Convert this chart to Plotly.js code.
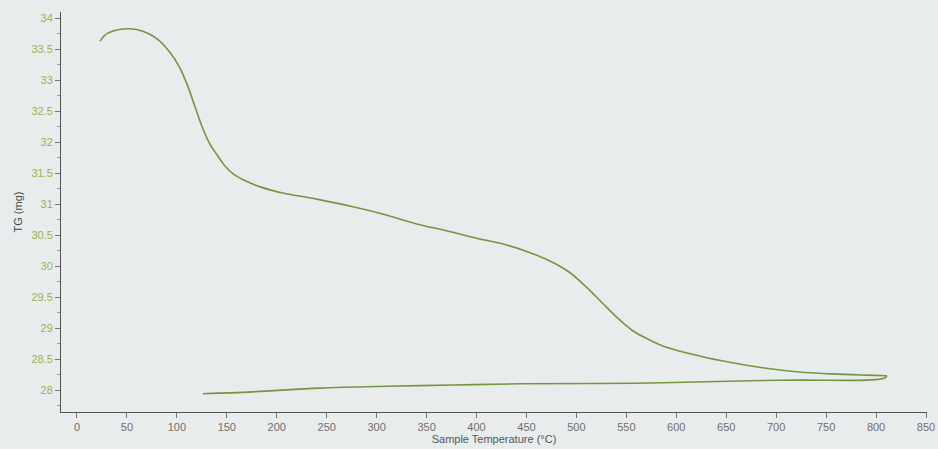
<!DOCTYPE html>
<html>
<head>
<meta charset="utf-8">
<script src="https://cdn.plot.ly/plotly-3.0.1.min.js"></script>
<style>
  html, body { margin: 0; padding: 0; background: #e9ecec; }
  #chart { width: 938px; height: 449px; }
</style>
</head>
<body>
<div id="chart"></div>
<script>
// Heating segment: sample temperature (°C) and TG (mg)
const heatTemp = [23, 30, 40, 53, 66, 80, 93, 103, 111, 118, 125, 133, 140, 148, 157, 168, 185, 206, 240, 273, 306, 340, 370, 400, 430, 453, 475, 493, 510, 525, 540, 556, 573, 590, 623, 656, 690, 723, 756, 790, 811];
const heatTG   = [33.63, 33.75, 33.81, 33.83, 33.79, 33.67, 33.45, 33.20, 32.90, 32.58, 32.26, 31.97, 31.80, 31.62, 31.48, 31.38, 31.27, 31.18, 31.08, 30.97, 30.84, 30.68, 30.57, 30.45, 30.34, 30.22, 30.07, 29.90, 29.66, 29.42, 29.18, 28.96, 28.81, 28.69, 28.55, 28.44, 28.35, 28.29, 28.26, 28.24, 28.23];
// Cooling segment
const coolTemp = [811, 808, 790, 723, 673, 560, 443, 376, 310, 243, 176, 126];
const coolTG   = [28.23, 28.19, 28.16, 28.16, 28.15, 28.11, 28.10, 28.08, 28.06, 28.03, 27.97, 27.94];
// Tick values
const xTicks = [0, 50, 100, 150, 200, 250, 300, 350, 400, 450, 500, 550, 600, 650, 700, 750, 800, 850];
const yTicks = [28, 28.5, 29, 29.5, 30, 30.5, 31, 31.5, 32, 32.5, 33, 33.5, 34];

const lineStyle = { color: '#739640', width: 1.6, shape: 'spline', smoothing: 1 };

const traces = [
  { x: heatTemp, y: heatTG, type: 'scatter', mode: 'lines', line: lineStyle, hoverinfo: 'skip' },
  { x: coolTemp, y: coolTG, type: 'scatter', mode: 'lines', line: lineStyle, hoverinfo: 'skip' }
];

const layout = {
  width: 938, height: 449,
  margin: { l: 61, r: 11, t: 12, b: 37 },
  paper_bgcolor: '#e9ecec',
  plot_bgcolor: '#e9ecec',
  showlegend: false,
  font: { family: 'Liberation Sans, Arial, sans-serif', size: 11, color: '#666' },
  xaxis: {
    range: [-16, 851],
    tickvals: xTicks,
    ticktext: xTicks.map(String),
    showgrid: false, zeroline: false,
    showline: true, linecolor: '#555', linewidth: 1,
    ticks: 'outside', ticklen: 5, tickcolor: '#777',
    tickfont: { size: 11, color: '#6e6e6e' },
    title: { text: 'Sample Temperature (°C)', font: { size: 11, color: '#555' }, standoff: 3 }
  },
  yaxis: {
    range: [27.645, 34.1],
    tickvals: yTicks,
    ticktext: yTicks.map(String),
    showgrid: false, zeroline: false,
    showline: true, linecolor: '#555', linewidth: 1,
    ticks: 'outside', ticklen: 5, tickcolor: '#777',
    minor: { dtick: 0.25, ticks: 'outside', ticklen: 3, tickcolor: '#999', showgrid: false },
    tickfont: { size: 11, color: '#9ab34e' },
    title: { text: 'TG (mg)', font: { size: 11, color: '#444' }, standoff: 6 }
  }
};

Plotly.newPlot('chart', traces, layout, { staticPlot: true, displayModeBar: false });
</script>
</body>
</html>
